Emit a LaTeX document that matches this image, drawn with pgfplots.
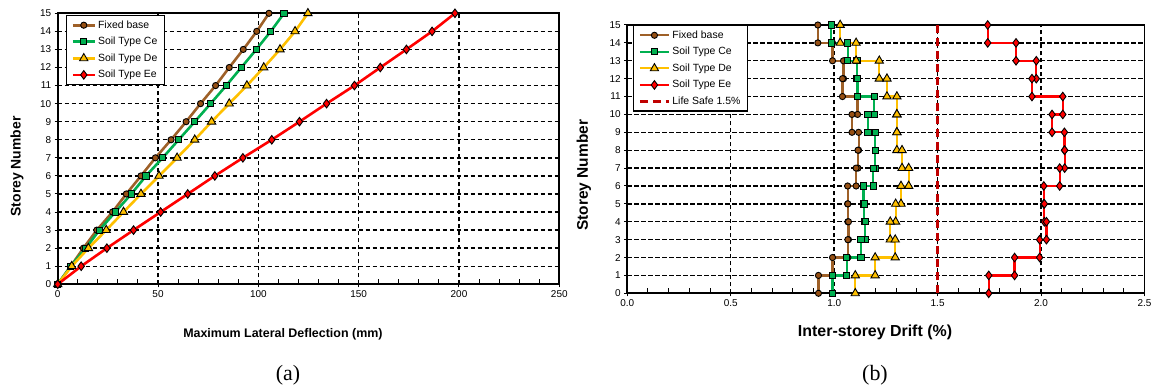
\documentclass[border=0pt]{standalone}
\usepackage{pgfplots}
\pgfplotsset{compat=1.18}
\usepackage{fontspec}
\setmainfont{Liberation Sans}
\newfontfamily\seriffont{Liberation Serif}
\definecolor{fbline}{RGB}{158,96,40}
\definecolor{fbfill}{RGB}{150,80,20}
\definecolor{celine}{RGB}{0,176,80}
\definecolor{deline}{RGB}{255,192,0}
\definecolor{eeline}{RGB}{255,0,0}
\definecolor{lsline}{RGB}{192,0,0}
\pgfplotsset{
  common/.style={
    scale only axis, clip=false,
    axis line style={black, line width=1.9bp},
    tick pos=left, tick align=center,
    major tick length=6bp, minor tick length=5bp,
    tick style={black, line width=1bp},
    every minor tick/.append style={yshift=2.5bp},
    grid=major,
    major grid style={black, line width=1.4bp, dash pattern=on 4.5bp off 2.5bp},
    ymin=0, ymax=15, ytick={0,1,...,15},
    tick label style={font=\fontsize{10}{12}\selectfont},
    /pgf/number format/assume math mode=true,
    legend cell align=left,
  },
  fb/.style={color=fbline, mark=*, mark options={fill=fbfill, draw=black, line width=0.9bp, solid}, mark size=3.1bp},
  ce/.style={color=celine, mark=square*, mark options={fill=celine, draw=black, line width=0.9bp, solid}, mark size=3.1bp},
  de/.style={color=deline, mark=triangle*, mark options={fill=deline, draw=black, line width=0.9bp, solid}, mark size=4.8bp},
  ee/.style={color=eeline, mark=diamond*, mark options={fill=eeline, draw=black, line width=0.9bp, solid}, mark size=4.3bp},
}
\begin{document}
\begin{tikzpicture}
\useasboundingbox (0,0) rectangle (1155bp,392bp);
% ---------------- (a)
\begin{axis}[common,
  at={(57.7bp,107.7bp)}, anchor=south west,
  width=501.6bp, height=271bp,
  xmin=0, xmax=250, xtick={0,50,100,150,200,250}, minor x tick num=4,
  xlabel={\bfseries Maximum Lateral Deflection (mm)},
  xlabel style={at={(axis description cs:0.449,-0.183)}, anchor=center, font=\fontsize{12.5}{14}\selectfont},
  ylabel={\bfseries Storey Number},
  ylabel style={at={(axis description cs:-0.081,0.435)}, anchor=center, font=\fontsize{14}{16}\selectfont},
  legend style={at={(axis description cs:0.016,0.994)}, anchor=north west, draw=black, line width=1.5bp, fill=white,
    font=\fontsize{10.5}{12}\selectfont, row sep=3.5bp, inner xsep=5bp, inner ysep=3bp},
  legend image code/.code={\draw[mark repeat=2,mark phase=2] plot coordinates {(0bp,0bp) (11bp,0bp) (22bp,0bp)};},
]
\addplot[fb, line width=2.6bp] coordinates {(0,0)(6.5,1)(12.8,2)(19.5,3)(27.3,4)(34.2,5)(41.5,6)(48.7,7)(56.5,8)(64,9)(71.2,10)(78.7,11)(85.5,12)(92.5,13)(99.2,14)(105.3,15)};
\addlegendentry{Fixed base}
\addplot[ce, line width=2.6bp] coordinates {(0,0)(6.5,1)(14,2)(20.8,3)(28.7,4)(36.7,5)(44,6)(52.3,7)(60.3,8)(68.3,9)(76.2,10)(84,11)(91.5,12)(99,13)(106.2,14)(112.8,15)};
\addlegendentry{Soil Type Ce}
\addplot[de, line width=2.6bp] coordinates {(0,0)(7,1)(15.3,2)(24.2,3)(32.8,4)(41.5,5)(50.5,6)(59.5,7)(68.3,8)(76.7,9)(85.5,10)(94.3,11)(102.7,12)(110.8,13)(118.3,14)(124.7,15)};
\addlegendentry{Soil Type De}
\addplot[ee, line width=2.6bp] coordinates {(0,0)(11.7,1)(24.5,2)(37.8,3)(51.3,4)(64.8,5)(78.3,6)(92.3,7)(106.7,8)(120.5,9)(134,10)(147.9,11)(160.8,12)(173.8,13)(186.6,14)(198,15)};
\addlegendentry{Soil Type Ee}
\end{axis}
% ---------------- (b)
\begin{axis}[common,
  at={(627.3bp,98.7bp)}, anchor=south west,
  width=517.2bp, height=268.3bp,
  xmin=0, xmax=2.5, xtick={0,0.5,1,1.5,2,2.5}, minor x tick num=4,
  xticklabel style={/pgf/number format/.cd, fixed, fixed zerofill, precision=1},
  xlabel={\bfseries Inter-storey Drift (\%)},
  xlabel style={at={(axis description cs:0.479,-0.146)}, anchor=center, font=\fontsize{16}{18}\selectfont},
  ylabel={\bfseries Storey Number},
  ylabel style={at={(axis description cs:-0.084,0.44)}, anchor=center, font=\fontsize{15.5}{18}\selectfont},
  legend style={at={(axis description cs:0.0104,1)}, anchor=north west, draw=black, line width=1.5bp, fill=white,
    font=\fontsize{10.5}{12}\selectfont, row sep=3.5bp, inner xsep=5bp, inner ysep=3bp},
  legend image code/.code={\draw[mark repeat=2,mark phase=2] plot coordinates {(0bp,0bp) (14.5bp,0bp) (29bp,0bp)};},
]
\addplot[fb, line width=2.2bp] coordinates {
(0.921,15)(0.921,14)(0.992,14)(0.992,13)(1.045,13)(1.045,12)(1.040,12)(1.040,11)
(1.113,11)(1.113,10)(1.086,10)(1.086,9)(1.118,9)(1.118,8)(1.115,8)(1.115,7)
(1.106,7)(1.106,6)(1.065,6)(1.065,5)(1.066,5)(1.066,4)(1.069,4)(1.069,3)
(1.066,3)(1.066,2)(0.992,2)(0.992,1)(0.924,1)(0.924,0)};
\addlegendentry{Fixed base}
\addplot[ce, line width=2.2bp] coordinates {
(0.985,15)(0.985,14)(1.065,14)(1.065,13)(1.110,13)(1.110,12)(1.113,12)(1.113,11)
(1.194,11)(1.194,10)(1.163,10)(1.163,9)(1.198,9)(1.198,8)(1.198,8)(1.198,7)
(1.189,7)(1.189,6)(1.142,6)(1.142,5)(1.145,5)(1.145,4)(1.150,4)(1.150,3)
(1.129,3)(1.129,2)(1.061,2)(1.061,1)(0.992,1)(0.992,0)};
\addlegendentry{Soil Type Ce}
\addplot[de, line width=2.2bp] coordinates {
(1.029,15)(1.029,14)(1.106,14)(1.106,13)(1.218,13)(1.218,12)(1.255,12)(1.255,11)
(1.303,11)(1.303,10)(1.303,10)(1.303,9)(1.303,9)(1.303,8)(1.328,8)(1.328,7)
(1.360,7)(1.360,6)(1.323,6)(1.323,5)(1.297,5)(1.297,4)(1.271,4)(1.271,3)
(1.295,3)(1.295,2)(1.198,2)(1.198,1)(1.102,1)(1.102,0)};
\addlegendentry{Soil Type De}
\addplot[ee, line width=2.2bp] coordinates {
(1.742,15)(1.742,14)(1.879,14)(1.879,13)(1.977,13)(1.977,12)(1.956,12)(1.956,11)
(2.105,11)(2.105,10)(2.053,10)(2.053,9)(2.113,9)(2.113,8)(2.114,8)(2.114,7)
(2.090,7)(2.090,6)(2.013,6)(2.013,5)(2.016,5)(2.016,4)(2.026,4)(2.026,3)
(1.993,3)(1.993,2)(1.872,2)(1.872,1)(1.747,1)(1.747,0)};
\addlegendentry{Soil Type Ee}
\addplot[lsline, line width=3bp, dash pattern=on 8bp off 5bp] coordinates {(1.5,0)(1.5,15)};
\addlegendentry{Life Safe 1.5\%}
\end{axis}
\node[font=\seriffont\fontsize{22}{24}\selectfont] at (288bp,17bp) {(a)};
\node[font=\seriffont\fontsize{22}{24}\selectfont] at (875bp,17bp) {(b)};
\end{tikzpicture}
\end{document}
